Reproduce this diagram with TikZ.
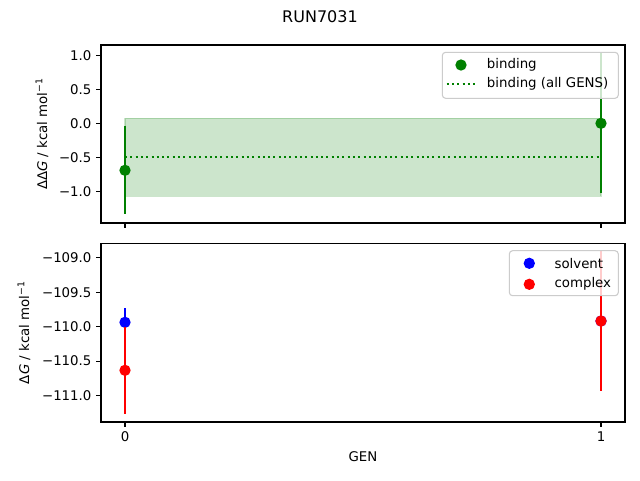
\documentclass[tikz,border=0pt]{standalone}
\usepackage{fontspec}
\setmainfont{DejaVu Sans}
\definecolor{mgreen}{RGB}{0,128,0}
\definecolor{mblue}{RGB}{0,0,255}
\definecolor{mred}{RGB}{255,0,0}
\definecolor{legedge}{RGB}{204,204,204}
\begin{document}
\begin{tikzpicture}[x=0.75pt,y=-0.75pt,
  axframe/.style={draw=black,line width=0.8pt},
  tickmark/.style={draw=black,line width=0.8pt},
  ylab/.style={anchor=east,inner sep=0pt,font=\fontsize{10}{12}\selectfont},
  xlab/.style={anchor=north,inner sep=0pt,font=\fontsize{10}{12}\selectfont},
  txt/.style={inner sep=0pt,font=\fontsize{10}{12}\selectfont},
  errbar/.style={line width=1.5pt},
  dot/.style={circle,inner sep=0pt,minimum size=8.5},
  legbox/.style={draw=legedge,fill=white,fill opacity=0.8,line width=0.8pt,rounded corners=2.5pt},
  legtxt/.style={anchor=west,inner sep=0pt,font=\fontsize{10}{12}\selectfont}
]
\useasboundingbox (0,0) rectangle (640,480);
\fill[white] (0,0) rectangle (640,480);

% title
\node[txt,font=\fontsize{12}{14}\selectfont] (title) at (320,17) {RUN7031};

% ===== top axes =====
% band
\fill[mgreen,fill opacity=0.2] (125,118.3) rectangle (601,196.3);
\draw[mgreen,draw opacity=0.2,line width=1pt] (125,118.3) rectangle (601,196.3);
\coordinate (dl) at (125,157);
\coordinate (dr) at (601,157);
\draw[mgreen,line width=1.5pt,dash pattern=on 1.5pt off 2.475pt] (dl) -- (dr);
% error bars
\coordinate (e0t) at (125,125.7); \coordinate (e0b) at (125,214.3);
\coordinate (e1t) at (601,52.6); \coordinate (e1b) at (601,193);
\draw[mgreen,errbar] (e0t) -- (e0b);
\draw[mgreen,errbar] (e1t) -- (e1b);
\node[dot,fill=mgreen] (b0) at (125,170.3) {};
\node[dot,fill=mgreen] (b1) at (601,123.3) {};
% frame
\draw[axframe] (101,45) rectangle (625,223);
% y ticks
\foreach \yy/\lab in {55.3/1.0,89.3/0.5,123.3/0.0,157.3/−0.5,191.3/−1.0}{
  \draw[tickmark] (101,\yy) -- (96.3,\yy);
  \node[ylab] at (91.7,\yy) {\lab};
}
% x ticks (no labels)
\draw[tickmark] (125,223) -- (125,227.7);
\draw[tickmark] (601,223) -- (601,227.7);
% y label
\node[txt,rotate=90] (ylabtop) at (42,134) {ΔΔ\textit{G} / kcal mol\textsuperscript{−1}};
% legend
\draw[legbox] (442.3,52.3) rectangle (618.3,98.3);
\node[dot,fill=mgreen] (lb) at (461,65) {};
\node[legtxt] (lbt) at (486.7,65) {binding};
\coordinate (lda) at (446.7,84);
\coordinate (ldb) at (475,84);
\draw[mgreen,line width=1.5pt,dash pattern=on 1.5pt off 2.475pt] (lda) -- (ldb);
\node[legtxt] (ldt) at (486.7,84) {binding (all GENS)};

% ===== bottom axes =====
\coordinate (s0t) at (125,308); \coordinate (s0b) at (125,336.6);
\coordinate (s1t) at (601,314); \coordinate (s1b) at (601,328);
\draw[mblue,errbar] (s0t) -- (s0b);
\draw[mblue,errbar] (s1t) -- (s1b);
\node[dot,fill=mblue] (sv0) at (125,322.3) {};
\node[dot,fill=mblue] (sv1) at (601,321) {};
\coordinate (c0t) at (125,326.6); \coordinate (c0b) at (125,414);
\coordinate (c1t) at (601,251); \coordinate (c1b) at (601,390.7);
\draw[mred,errbar] (c0t) -- (c0b);
\draw[mred,errbar] (c1t) -- (c1b);
\node[dot,fill=mred] (cx0) at (125,370.3) {};
\node[dot,fill=mred] (cx1) at (601,321) {};
% frame
\draw[axframe] (101,243.3) rectangle (625,422);
% y ticks
\foreach \yy/\lab in {257.9/−109.0,292.3/−109.5,326.7/−110.0,361.1/−110.5,395.5/−111.0}{
  \draw[tickmark] (101,\yy) -- (96.3,\yy);
  \node[ylab] at (91.7,\yy) {\lab};
}
% x ticks
\draw[tickmark] (125,422) -- (125,426.7);
\draw[tickmark] (601,422) -- (601,426.7);
\node[xlab] (x0) at (125,431.3) {0};
\node[xlab] (x1) at (601,431.3) {1};
\node[txt] (xlabel) at (363,457) {GEN};
\node[txt,rotate=90] (ylabbot) at (24,332.6) {Δ\textit{G} / kcal mol\textsuperscript{−1}};
% legend
\draw[legbox] (509.3,250.7) rectangle (618.3,295.7);
\node[dot,fill=mblue] (ls) at (529.3,263.3) {};
\node[legtxt] (lst) at (554.3,263.3) {solvent};
\node[dot,fill=mred] (lc) at (529.3,284.3) {};
\node[legtxt] (lct) at (554.3,284.3) {complex};
\end{tikzpicture}
\end{document}
